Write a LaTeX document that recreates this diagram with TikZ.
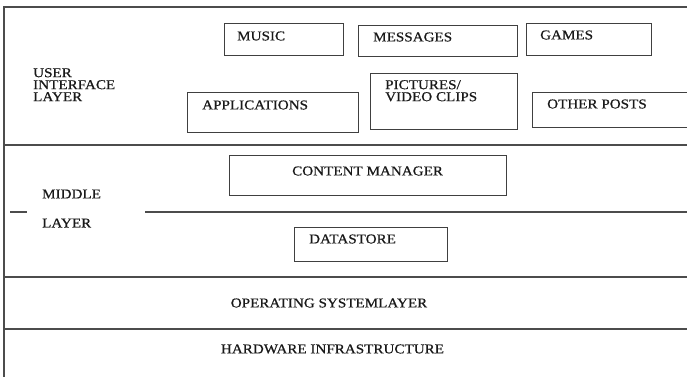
\documentclass[tikz,border=0pt]{standalone}
\usepackage{fontspec}
\setmainfont[FakeStretch=1.12,FakeBold=0.6]{Liberation Serif}
\usetikzlibrary{positioning}

\begin{document}
\begin{tikzpicture}[x=1pt,y=-1pt,
              every node/.style={font=\fontsize{13.5}{12}\selectfont,text=black!90,inner sep=0pt},
              layer/.style={draw=black!70,line width=1.6pt},
              itembox/.style={draw=black!75,line width=1pt,rectangle,anchor=north west},
              lbl/.style={anchor=west}]
    \useasboundingbox (0,0) rectangle (687,376);

    % layer frame
    \draw[layer] (4,7) -- (687,7);
    \draw[layer] (4,6) -- (4,378);
    \draw[layer] (4,145) -- (687,145);
    \draw[layer] (10,212) -- (27,212);
    \draw[layer] (145,212) -- (687,212);
    \draw[layer] (4,277) -- (687,277);
    \draw[layer] (4,329) -- (687,329);

    % user interface layer
    \node[anchor=north west,align=left] (ui) at (33,68) {USER\\INTERFACE\\LAYER};

    \node[itembox,minimum width=119,minimum height=32] (music) at (224,23) {};
    \node[lbl] (musict) at (237,36) {MUSIC};
    \node[itembox,minimum width=159,minimum height=31] (msg) at (358,25) {};
    \node[lbl] (msgt) at (373,37) {MESSAGES};
    \node[itembox,minimum width=125,minimum height=32] (games) at (526,23) {};
    \node[lbl] (gamest) at (540,35) {GAMES};

    \node[itembox,minimum width=171,minimum height=40] (apps) at (187,92) {};
    \node[lbl] (appst) at (202,105) {APPLICATIONS};
    \node[itembox,minimum width=147,minimum height=56] (pics) at (370,73) {};
    \node[anchor=north west,align=left] (picst) at (385,80) {PICTURES/\\VIDEO CLIPS};
    \node[itembox,minimum width=160,minimum height=35] (posts) at (532,92) {};
    \node[lbl] (postst) at (547,104) {OTHER POSTS};

    % middle layer
    \node[lbl] (mid) at (42,194) {MIDDLE};
    \node[lbl] (midl) at (42,223) {LAYER};
    \node[itembox,minimum width=277,minimum height=40] (cm) at (229,155) {};
    \node[lbl] (cmt) at (292,171) {CONTENT MANAGER};
    \node[itembox,minimum width=153,minimum height=34] (ds) at (294,227) {};
    \node[lbl] (dst) at (309,239) {DATASTORE};

    % lower layers
    \node (os) at (329,303) {OPERATING SYSTEMLAYER};
    \node (hw) at (332.5,349) {HARDWARE INFRASTRUCTURE};
\end{tikzpicture}
\end{document}
